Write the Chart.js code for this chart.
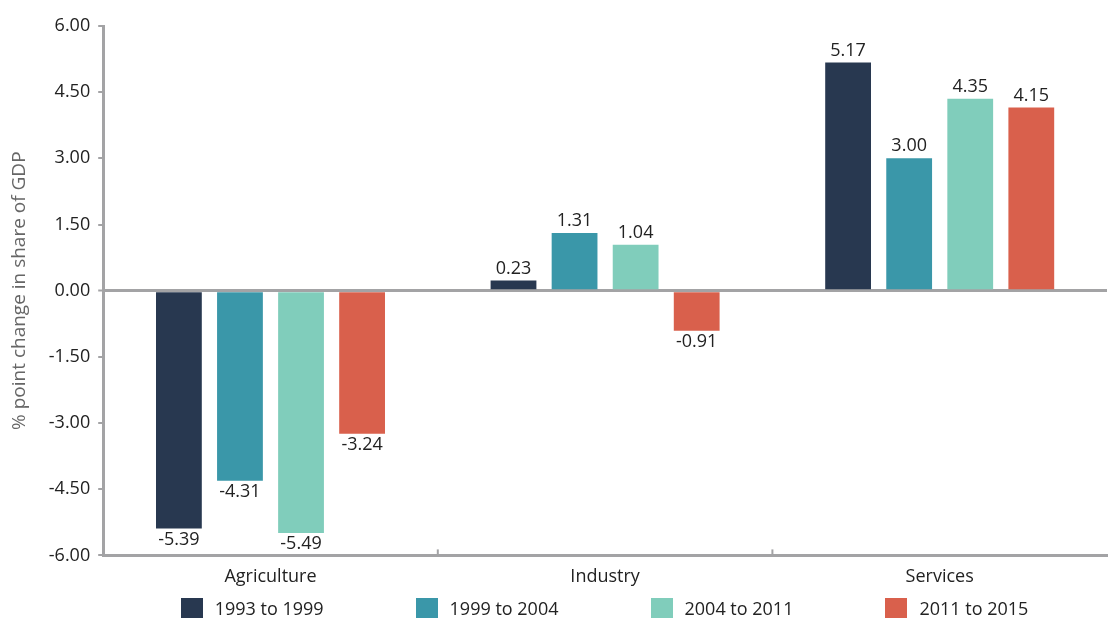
<!DOCTYPE html>
<html>
<head>
<meta charset="utf-8">
<script src="https://cdn.jsdelivr.net/npm/chart.js@4/dist/chart.umd.min.js"></script>
<style>
  body { margin: 0; background: #fff; font-family: 'Open Sans', sans-serif; }
  #wrap { position: relative; width: 1109px; height: 619px; }
  #legend {
    position: absolute; left: 102px; width: 1005px; top: 597px;
    display: flex; justify-content: center; gap: 92px;
    font-size: 18px; color: #222; line-height: 22px;
  }
  #legend span.item { display: flex; align-items: center; }
  #legend span.box { display: inline-block; width: 22px; height: 20px; margin-right: 12px; }
</style>
</head>
<body>
<div id="wrap">
  <canvas id="gdp-chart"></canvas>
  <div id="legend"></div>
</div>
<script>
const sectors = ['Agriculture', 'Industry', 'Services'];
const periods = ['1993 to 1999', '1999 to 2004', '2004 to 2011', '2011 to 2015'];
const p1993 = [-5.39, 0.23, 5.17];
const p1999 = [-4.31, 1.31, 3.00];
const p2004 = [-5.49, 1.04, 4.35];
const p2011 = [-3.24, -0.91, 4.15];
const colors = ['#283850', '#3a97a9', '#80cdbb', '#d9604c'];

const axisGrey = '#a3a3a5';
const font = { family: "'Open Sans', sans-serif", size: 18 };

// draws the value next to each bar, above positive and below negative
const valueLabels = {
  id: 'valueLabels',
  afterDatasetsDraw(chart) {
    const ctx = chart.ctx;
    ctx.save();
    ctx.font = "18px 'Open Sans', sans-serif";
    ctx.fillStyle = '#222';
    ctx.textAlign = 'center';
    chart.data.datasets.forEach((ds, i) => {
      chart.getDatasetMeta(i).data.forEach((bar, j) => {
        const v = ds.data[j];
        if (v >= 0) {
          ctx.textBaseline = 'bottom';
          ctx.fillText(v.toFixed(2), bar.x, bar.y - 3);
        } else {
          ctx.textBaseline = 'top';
          ctx.fillText(v.toFixed(2), bar.x, bar.y + 2);
        }
      });
    });
    // small upward ticks between categories on the x axis
    const xs = chart.scales.x;
    const bottom = chart.chartArea.bottom;
    ctx.strokeStyle = axisGrey;
    ctx.lineWidth = 2;
    for (let k = 1; k < sectors.length; k++) {
      const px = (xs.getPixelForTick(k - 1) + xs.getPixelForTick(k)) / 2;
      ctx.beginPath();
      ctx.moveTo(px, bottom);
      ctx.lineTo(px, bottom - 6);
      ctx.stroke();
    }
    ctx.restore();
  }
};

const ctx = document.getElementById('gdp-chart').getContext('2d');
const chart = new Chart(ctx, {
  type: 'bar',
  data: {
    labels: sectors,
    datasets: [p1993, p1999, p2004, p2011].map((d, i) => ({
      label: periods[i],
      data: d,
      backgroundColor: colors[i],
      borderWidth: 0,
      barPercentage: 0.75,
      categoryPercentage: 0.73
    }))
  },
  options: {
    responsive: true,
    maintainAspectRatio: false,
    animation: false,
    layout: { padding: { top: 26, right: 2, left: 8, bottom: 28 } },
    scales: {
      x: {
        grid: { display: false },
        border: { color: axisGrey, width: 3 },
        ticks: { color: '#222', font: font, padding: 3 }
      },
      y: {
        min: -6,
        max: 6,
        z: 1,
        ticks: {
          stepSize: 1.5,
          color: '#222',
          font: font,
          padding: 8,
          callback: v => v.toFixed(2)
        },
        grid: {
          drawOnChartArea: true,
          color: c => c.tick.value === 0 ? axisGrey : 'rgba(0,0,0,0)',
          lineWidth: c => c.tick.value === 0 ? 3 : 0,
          tickColor: axisGrey,
          tickLength: 5,
          tickWidth: 2
        },
        border: { color: axisGrey, width: 3 },
        title: {
          display: true,
          text: '% point change in share of GDP',
          color: '#666',
          font: { family: "'Open Sans', sans-serif", size: 19 },
          padding: { top: 0, bottom: 10 }
        }
      }
    },
    plugins: {
      legend: { display: false },
      tooltip: { enabled: false }
    }
  },
  plugins: [valueLabels]
});

// legend drawn as plain html under the chart
const legendEl = document.getElementById('legend');
chart.data.datasets.forEach(ds => {
  const item = document.createElement('span');
  item.className = 'item';
  const box = document.createElement('span');
  box.className = 'box';
  box.style.background = ds.backgroundColor;
  item.appendChild(box);
  item.appendChild(document.createTextNode(ds.label));
  legendEl.appendChild(item);
});
</script>
</body>
</html>
